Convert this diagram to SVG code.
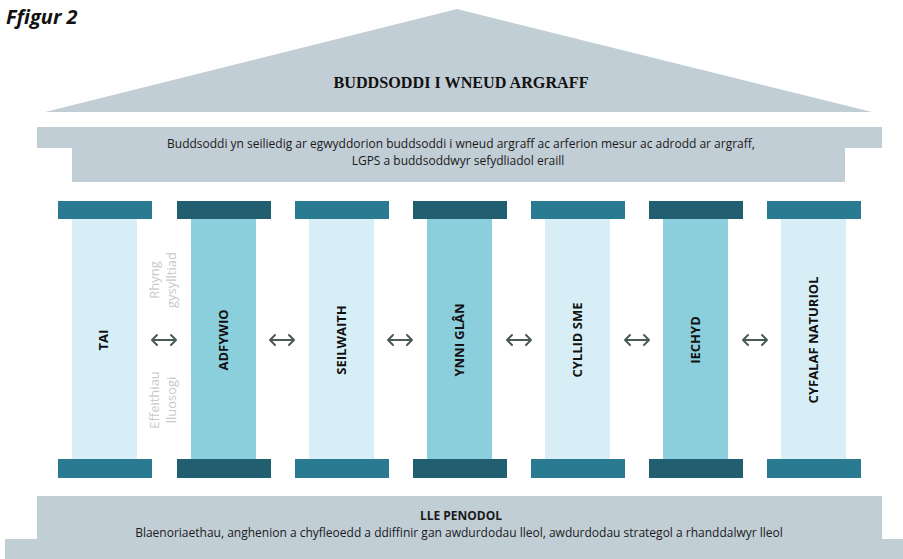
<svg xmlns="http://www.w3.org/2000/svg" width="903" height="559" viewBox="0 0 903 559">
<style>
.bg{fill:#ffffff}
.stone{fill:#c2ced6}
.capA{fill:#2a7b92}
.capB{fill:#205e70}
.shL{fill:#d7eef6}
.shD{fill:#8ccfdc}
.lbl{font-family:"Open Sans","Liberation Sans",sans-serif;font-weight:bold;font-size:13px;fill:#111;text-anchor:middle}
.side{font-family:"Open Sans","Liberation Sans",sans-serif;font-size:13px;fill:#c9c9c9;text-anchor:middle}
.txt{font-family:"Open Sans","Liberation Sans",sans-serif;font-size:12px;fill:#1a1a1a;text-anchor:middle}
.arr{fill:none;stroke:#4b5959;stroke-width:2;stroke-linecap:round;stroke-linejoin:round}
</style>
<rect class="bg" x="0" y="0" width="903" height="559"/>
<text x="6" y="24" font-family="'Open Sans','Liberation Sans',sans-serif" font-weight="bold" font-style="italic" font-size="20" fill="#111">Ffigur 2</text>

<g id="roof">
<polygon class="stone" points="45,112 457,9 872,112" fill="#c4d1d8"/>
<text x="461" y="88" font-family="'Liberation Serif','DejaVu Serif',serif" font-weight="bold" font-size="16" fill="#111" text-anchor="middle" textLength="255" lengthAdjust="spacingAndGlyphs">BUDDSODDI I WNEUD ARGRAFF</text>
</g>

<g id="entablature">
<rect class="stone" x="37" y="127" width="845" height="21"/>
<rect class="stone" x="72" y="147" width="773" height="35"/>
<text class="txt" x="461" y="148">Buddsoddi yn seiliedig ar egwyddorion buddsoddi i wneud argraff ac arferion mesur ac adrodd ar argraff,</text>
<text class="txt" x="458" y="165">LGPS a buddsoddwyr sefydliadol eraill</text>
</g>

<g id="pillar-tai">
<rect class="shL" x="72" y="219" width="65" height="240"/>
<rect class="capA" x="58" y="201" width="94" height="18"/>
<rect class="capA" x="58" y="459" width="94" height="19"/>
<text class="lbl" transform="translate(108,340) rotate(-90)">TAI</text>
</g>
<g id="pillar-adfywio">
<rect class="shD" x="191" y="219" width="65" height="240"/>
<rect class="capB" x="177" y="201" width="94" height="18"/>
<rect class="capB" x="177" y="459" width="94" height="19"/>
<text class="lbl" transform="translate(228,340) rotate(-90)">ADFYWIO</text>
</g>
<g id="pillar-seilwaith">
<rect class="shL" x="309" y="219" width="65" height="240"/>
<rect class="capA" x="295" y="201" width="94" height="18"/>
<rect class="capA" x="295" y="459" width="94" height="19"/>
<text class="lbl" transform="translate(346,340) rotate(-90)">SEILWAITH</text>
</g>
<g id="pillar-ynni-glan">
<rect class="shD" x="427" y="219" width="65" height="240"/>
<rect class="capB" x="413" y="201" width="94" height="18"/>
<rect class="capB" x="413" y="459" width="94" height="19"/>
<text class="lbl" transform="translate(464,340) rotate(-90)">YNNI GLÂN</text>
</g>
<g id="pillar-cyllid-sme">
<rect class="shL" x="545" y="219" width="65" height="240"/>
<rect class="capA" x="531" y="201" width="94" height="18"/>
<rect class="capA" x="531" y="459" width="94" height="19"/>
<text class="lbl" transform="translate(582,340) rotate(-90)">CYLLID SME</text>
</g>
<g id="pillar-iechyd">
<rect class="shD" x="663" y="219" width="65" height="240"/>
<rect class="capB" x="649" y="201" width="94" height="18"/>
<rect class="capB" x="649" y="459" width="94" height="19"/>
<text class="lbl" transform="translate(700,340) rotate(-90)">IECHYD</text>
</g>
<g id="pillar-cyfalaf-naturiol">
<rect class="shL" x="781" y="219" width="65" height="240"/>
<rect class="capA" x="767" y="201" width="94" height="18"/>
<rect class="capA" x="767" y="459" width="94" height="19"/>
<text class="lbl" transform="translate(818,340) rotate(-90)">CYFALAF NATURIOL</text>
</g>

<g id="side-labels">
<text class="side" transform="translate(159,280) rotate(-90)">Rhyng</text>
<text class="side" transform="translate(176,280) rotate(-90)">gysylltiad</text>
<text class="side" transform="translate(159,400) rotate(-90)">Effeithiau</text>
<text class="side" transform="translate(176,400) rotate(-90)">lluosogi</text>
</g>

<g id="connectors">
<path class="arr" d="M152,340 H176 M157,335 L152,340 L157,345 M171,335 L176,340 L171,345"/>
<path class="arr" d="M270,340 H294 M275,335 L270,340 L275,345 M289,335 L294,340 L289,345"/>
<path class="arr" d="M388,340 H412 M393,335 L388,340 L393,345 M407,335 L412,340 L407,345"/>
<path class="arr" d="M507,340 H531 M512,335 L507,340 L512,345 M526,335 L531,340 L526,345"/>
<path class="arr" d="M625,340 H649 M630,335 L625,340 L630,345 M644,335 L649,340 L644,345"/>
<path class="arr" d="M743,340 H767 M748,335 L743,340 L748,345 M762,335 L767,340 L762,345"/>
</g>

<g id="base">
<rect class="stone" x="5" y="539" width="898" height="20"/>
<rect class="stone" x="37" y="496" width="845" height="44"/>
<text class="txt" x="461" y="520" font-weight="bold" font-size="13">LLE PENODOL</text>
<text class="txt" x="459" y="537">Blaenoriaethau, anghenion a chyfleoedd a ddiffinir gan awdurdodau lleol, awdurdodau strategol a rhanddalwyr lleol</text>
</g>
</svg>
